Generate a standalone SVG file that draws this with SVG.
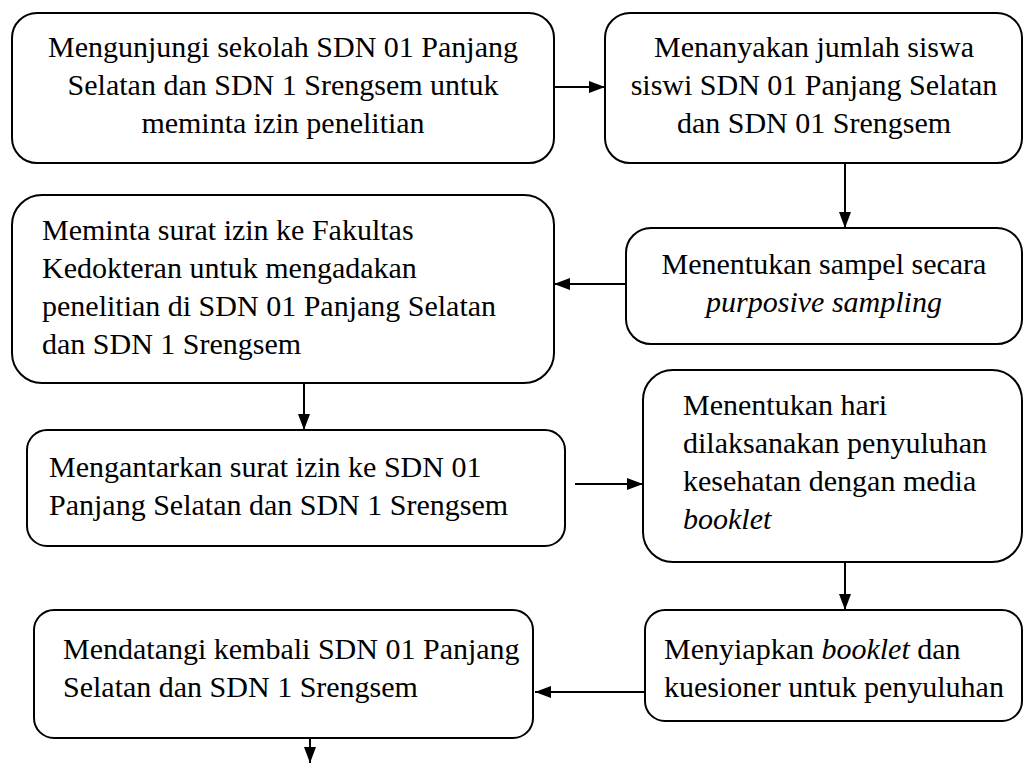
<svg xmlns="http://www.w3.org/2000/svg" width="1026" height="763" viewBox="0 0 1026 763">
<style>
.box{fill:#fff;stroke:#000;stroke-width:2}
text{font-family:"Times New Roman","Liberation Serif","DejaVu Serif",serif;font-size:30px;fill:#000}
.c{text-anchor:middle}
.i{font-style:italic}
.ln{stroke:#000;stroke-width:2;fill:none}
</style>
<defs>
<marker id="ah" viewBox="0 0 16 12" refX="16" refY="6" markerWidth="16" markerHeight="12" markerUnits="userSpaceOnUse" orient="auto">
<path d="M0,0 L16,6 L0,12 z" fill="#000"/>
</marker>
</defs>
<g id="connectors">
<line class="ln" x1="554" y1="87" x2="605" y2="87" marker-end="url(#ah)"/>
<line class="ln" x1="845" y1="163" x2="845" y2="228" marker-end="url(#ah)"/>
<line class="ln" x1="626" y1="284" x2="554" y2="284" marker-end="url(#ah)"/>
<line class="ln" x1="304" y1="383" x2="304" y2="430" marker-end="url(#ah)"/>
<line class="ln" x1="575" y1="484" x2="643" y2="484" marker-end="url(#ah)"/>
<line class="ln" x1="845" y1="562" x2="845" y2="610" marker-end="url(#ah)"/>
<line class="ln" x1="645" y1="692" x2="535" y2="692" marker-end="url(#ah)"/>
<line class="ln" x1="310" y1="738" x2="310" y2="763" marker-end="url(#ah)"/>
</g>
<g id="n1">
<rect class="box" x="12" y="13" width="542" height="150" rx="25"/>
<text class="c" x="283" y="57">Mengunjungi sekolah SDN 01 Panjang</text>
<text class="c" x="283" y="95">Selatan dan SDN 1 Srengsem untuk</text>
<text class="c" x="283" y="133">meminta izin penelitian</text>
</g>
<g id="n2">
<rect class="box" x="605" y="13" width="417" height="150" rx="25"/>
<text class="c" x="814" y="57">Menanyakan jumlah siswa</text>
<text class="c" x="814" y="95">siswi SDN 01 Panjang Selatan</text>
<text class="c" x="814" y="133">dan SDN 01 Srengsem</text>
</g>
<g id="n3">
<rect class="box" x="626" y="228" width="396" height="116" rx="25"/>
<text class="c" x="824" y="274">Menentukan sampel secara</text>
<text class="c i" x="824" y="312">purposive sampling</text>
</g>
<g id="n4">
<rect class="box" x="12" y="195" width="542" height="188" rx="30"/>
<text x="42" y="240">Meminta surat izin ke Fakultas</text>
<text x="42" y="278">Kedokteran untuk mengadakan</text>
<text x="42" y="316">penelitian di SDN 01 Panjang Selatan</text>
<text x="42" y="354">dan SDN 1 Srengsem</text>
</g>
<g id="n5">
<rect class="box" x="27" y="430" width="538" height="116" rx="20"/>
<text x="49" y="477">Mengantarkan surat izin ke SDN 01</text>
<text x="49" y="515">Panjang Selatan dan SDN 1 Srengsem</text>
</g>
<g id="n6">
<rect class="box" x="643" y="370" width="379" height="192" rx="30"/>
<text x="683" y="415">Menentukan hari</text>
<text x="683" y="453">dilaksanakan penyuluhan</text>
<text x="683" y="491">kesehatan dengan media</text>
<text class="i" x="683" y="529">booklet</text>
</g>
<g id="n7">
<rect class="box" x="645" y="610" width="377" height="111" rx="20"/>
<text x="664" y="659">Menyiapkan <tspan class="i">booklet</tspan> dan</text>
<text x="664" y="697">kuesioner untuk penyuluhan</text>
</g>
<g id="n8">
<rect class="box" x="34" y="610" width="499" height="128" rx="20"/>
<text x="63" y="659">Mendatangi kembali SDN 01 Panjang</text>
<text x="63" y="697">Selatan dan SDN 1 Srengsem</text>
</g>
</svg>
